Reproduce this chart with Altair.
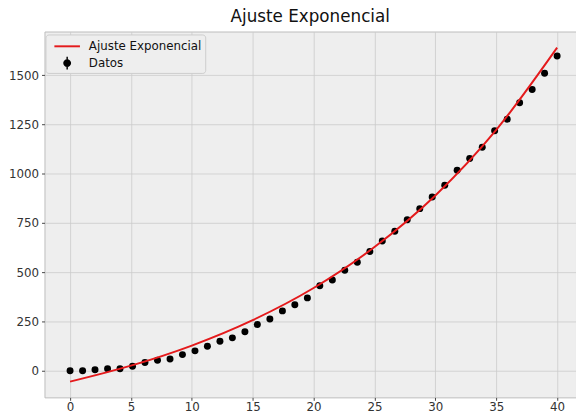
import altair as alt
import pandas as pd

# Datos (puntos)
x_datos = [0.00, 1.03, 2.05, 3.08, 4.10, 5.13, 6.15, 7.18, 8.21, 9.23,
           10.26, 11.28, 12.31, 13.33, 14.36, 15.38, 16.41, 17.44, 18.46, 19.49,
           20.51, 21.54, 22.56, 23.59, 24.62, 25.64, 26.67, 27.69, 28.72, 29.74,
           30.77, 31.79, 32.82, 33.85, 34.87, 35.90, 36.92, 37.95, 38.97, 40.00]
y_datos = [0, 0, 5, 10, 10, 23, 42, 53, 60, 82,
           101, 125, 150, 167, 198, 235, 263, 304, 335, 370,
           431, 461, 510, 551, 605, 659, 708, 767, 823, 882,
           942, 1018, 1077, 1135, 1218, 1277, 1360, 1428, 1510, 1598]

# Curva de ajuste
x_ajuste = [0, 5, 10, 15, 20, 25, 30, 35, 40]
y_ajuste = [-55, 26, 128, 257, 420, 628, 890, 1223, 1640]

series = ["Ajuste Exponencial", "Datos"]
colores = ["#e41a1c", "#000000"]
x_ticks = [0, 5, 10, 15, 20, 25, 30, 35, 40]
y_ticks = [0, 250, 500, 750, 1000, 1250, 1500]

df_d = pd.DataFrame({"x": x_datos, "y": y_datos, "serie": "Datos"})
df_a = pd.DataFrame({"x": x_ajuste, "y": y_ajuste})

xs = alt.Scale(domain=[-2.1, 41.55], nice=False, zero=False)
ys = alt.Scale(domain=[-135, 1722], nice=False, zero=False)

# legend glyphs in Vega's [-1, 1] unit box (scaled by sqrt(size)/2)
LINE_PATH = "M-1.44,-0.11H1.44V0.11H-1.44Z"
DOT_PATH = ("M-0.444,0A0.444,0.444,0,1,1,0.444,0A0.444,0.444,0,1,1,-0.444,0Z "
            "M-0.08,-0.72H0.08V0.72H-0.08Z")

legend = alt.Legend(
    title=None, orient="none", legendX=1, legendY=3,
    fillColor="#eeeeee", strokeColor="#cccccc", cornerRadius=3,
    padding=3, rowPadding=2, symbolSize=324, symbolOffset=10, labelOffset=13,
    labelFont="DejaVu Sans", labelFontSize=12, labelColor="#111111",
    symbolStrokeWidth=0, symbolOpacity=1,
)

linea = alt.Chart(df_a).mark_line(strokeWidth=2, color="#e41a1c",
                                   interpolate="monotone", clip=True).encode(
    x=alt.X("x:Q", scale=xs, axis=alt.Axis(values=x_ticks, title=None, labelPadding=1)),
    y=alt.Y("y:Q", scale=ys, axis=alt.Axis(values=y_ticks, title=None, format="d")),
)

puntos = alt.Chart(df_d).mark_circle(size=50, opacity=1, color="#000000", clip=True).encode(
    x=alt.X("x:Q", scale=xs),
    y=alt.Y("y:Q", scale=ys),
)

# invisible layer that only carries the legend
leyenda = alt.Chart(df_d).mark_point(filled=True, size=324, opacity=0,
                                     strokeWidth=0, clip=True).encode(
    x=alt.X("x:Q", scale=xs),
    y=alt.Y("y:Q", scale=ys),
    color=alt.Color("serie:N", scale=alt.Scale(domain=series, range=colores), legend=legend),
    shape=alt.Shape("serie:N", scale=alt.Scale(domain=series, range=[LINE_PATH, DOT_PATH]), legend=legend),
)

chart = alt.layer(puntos, linea, leyenda).properties(
    width=539, height=371,
    padding={"left": 37, "top": 21, "right": 0, "bottom": 13},
    autosize=alt.AutoSizeParams(type="none"),
    title=alt.TitleParams("Ajuste Exponencial", font="DejaVu Sans", fontSize=17,
                          fontWeight="normal", color="#111111", anchor="middle",
                          baseline="alphabetic", offset=7, dy=14),
).configure_view(
    fill="#eeeeee", stroke="#bcbcbc", strokeWidth=1
).configure_axis(
    domain=False, grid=True, gridColor="#cbcbcb", gridWidth=0.8,
    tickColor="#444444", tickSize=3, labelPadding=3,
    labelFont="DejaVu Sans", labelFontSize=12, labelColor="#333333",
)

chart.save("out.html", embed_options={"renderer": "svg", "actions": False})
